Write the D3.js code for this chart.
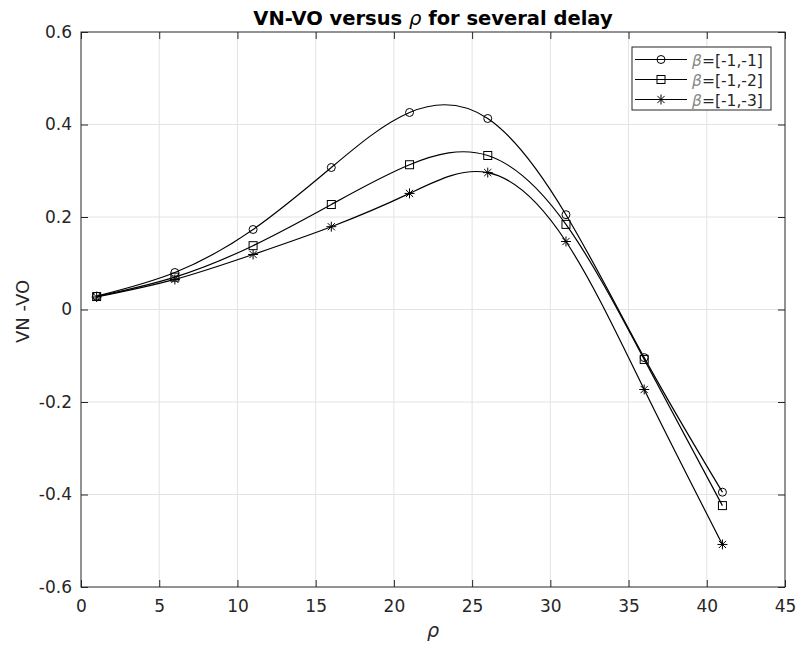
<!DOCTYPE html>
<html><head><meta charset="utf-8">
<script src="https://cdn.jsdelivr.net/npm/d3@7"></script>
<style>body{margin:0;background:#fff}svg{display:block}text{font-family:"DejaVu Sans",sans-serif}</style>
</head><body>
<svg id="c" width="800" height="648"></svg>
<script>
const rho = [1, 6, 11, 16, 21, 26, 31, 36, 41];
const beta1 = [0.029, 0.080, 0.173, 0.307, 0.426, 0.413, 0.205, -0.104, -0.395];
const beta2 = [0.028, 0.070, 0.138, 0.227, 0.313, 0.333, 0.184, -0.108, -0.424];
const beta3 = [0.027, 0.065, 0.119, 0.179, 0.251, 0.296, 0.147, -0.173, -0.508];
const seriesNames = ["[-1,-1]", "[-1,-2]", "[-1,-3]"];
const markers = ["circle", "square", "star"];
const xTicks = [0, 5, 10, 15, 20, 25, 30, 35, 40, 45];
const yTicks = [-0.6, -0.4, -0.2, 0, 0.2, 0.4, 0.6];

const svg = d3.select("#c");
const L = 81, R = 785, T = 32, B = 587;
const x = d3.scaleLinear().domain([0, 45]).range([L, R]);
const y = d3.scaleLinear().domain([-0.6, 0.6]).range([B, T]);
const txt = "#262626";
const tickFs = "17px";

// grid
svg.append("g").selectAll("line").data(xTicks.slice(1, -1)).join("line")
  .attr("x1", d => x(d)).attr("x2", d => x(d)).attr("y1", T).attr("y2", B)
  .attr("stroke", "#e3e3e3").attr("stroke-width", 1);
svg.append("g").selectAll("line").data(yTicks.slice(1, -1)).join("line")
  .attr("y1", d => y(d)).attr("y2", d => y(d)).attr("x1", L).attr("x2", R)
  .attr("stroke", "#e3e3e3").attr("stroke-width", 1);

// axes
const tl = 7;
const ax = (g, axis) => g.call(axis).call(s => {
  s.select(".domain").remove();
  s.selectAll("line").attr("stroke", txt);
  s.selectAll("text").attr("fill", txt).style("font-size", tickFs).style("font-family", "DejaVu Sans");
});
const yFmt = d => d === 0 ? "0" : d3.format(".1f")(d).replace("−", "-");
svg.append("g").attr("transform", `translate(0,${B})`)
  .call(g => ax(g, d3.axisBottom(x).tickValues(xTicks).tickFormat(d3.format("d")).tickSizeInner(-tl).tickSizeOuter(0).tickPadding(13)));
svg.append("g").attr("transform", `translate(0,${T})`)
  .call(g => ax(g, d3.axisTop(x).tickValues(xTicks).tickFormat("").tickSizeInner(-tl).tickSizeOuter(0)));
svg.append("g").attr("transform", `translate(${L},0)`)
  .call(g => ax(g, d3.axisLeft(y).tickValues(yTicks).tickFormat(yFmt).tickSizeInner(-tl).tickSizeOuter(0).tickPadding(9)));
svg.append("g").attr("transform", `translate(${R},0)`)
  .call(g => ax(g, d3.axisRight(y).tickValues(yTicks).tickFormat("").tickSizeInner(-tl).tickSizeOuter(0)));
svg.append("rect").attr("x", L).attr("y", T).attr("width", R - L).attr("height", B - T)
  .attr("fill", "none").attr("stroke", txt).attr("stroke-width", 1);

// lines
const all = [beta1, beta2, beta3];
const line = d3.line().x(d => x(d[0])).y(d => y(d[1])).curve(d3.curveNatural);
function marker(g, type, cx, cy) {
  if (type === "circle") g.append("circle").attr("cx", cx).attr("cy", cy).attr("r", 4).attr("fill", "none").attr("stroke", "#000");
  else if (type === "square") g.append("rect").attr("x", cx - 4).attr("y", cy - 4).attr("width", 8).attr("height", 8).attr("fill", "none").attr("stroke", "#000");
  else {
    const r = 5, d = r * 0.72;
    const p = `M${cx - r},${cy}H${cx + r}M${cx},${cy - r}V${cy + r}M${cx - d},${cy - d}L${cx + d},${cy + d}M${cx - d},${cy + d}L${cx + d},${cy - d}`;
    g.append("path").attr("d", p).attr("stroke", "#000").attr("fill", "none");
  }
}
all.forEach((vals, i) => {
  const pts = rho.map((r, j) => [r, vals[j]]);
  svg.append("path").datum(pts).attr("d", line).attr("fill", "none").attr("stroke", "#000").attr("stroke-width", 1.2);
  const g = svg.append("g");
  pts.forEach(p => marker(g, markers[i], x(p[0]), y(p[1])));
});

// title
const title = svg.append("text").attr("x", (L + R) / 2).attr("y", 25).attr("text-anchor", "middle")
  .attr("fill", "#000").style("font-size", "19.5px").style("font-weight", "bold");
title.append("tspan").text("VN-VO versus ");
title.append("tspan").text("ρ").style("font-style", "italic").style("font-weight", "normal");
title.append("tspan").text(" for several delay");

// axis labels
svg.append("text").attr("x", (L + R) / 2).attr("y", 637).attr("text-anchor", "middle")
  .attr("fill", txt).style("font-size", "19px").style("font-style", "italic").text("ρ");
svg.append("text").attr("transform", `translate(29,${(T + B) / 2 + 2}) rotate(-90)`).attr("text-anchor", "middle")
  .attr("fill", txt).style("font-size", "18px").text("VN -VO");

// legend
const lg = svg.append("g");
lg.append("rect").attr("x", 632).attr("y", 47).attr("width", 139).attr("height", 63)
  .attr("fill", "#fff").attr("stroke", txt).attr("stroke-width", 1);
seriesNames.forEach((n, i) => {
  const cy = 59.5 + i * 20;
  lg.append("line").attr("x1", 635).attr("x2", 687).attr("y1", cy).attr("y2", cy).attr("stroke", "#000").attr("stroke-width", 1.2);
  marker(lg, markers[i], 661, cy);
  const t = lg.append("text").attr("x", 692).attr("y", cy + 6).attr("fill", txt).style("font-size", "15.5px");
  t.append("tspan").text("β").style("font-style", "italic").attr("fill", "#888");
  t.append("tspan").text("=" + n);
});
</script>
</body></html>
